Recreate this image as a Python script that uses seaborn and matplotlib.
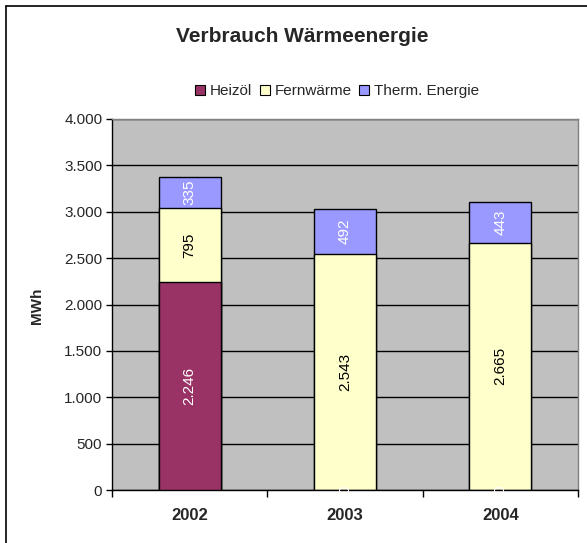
import numpy as np
import pandas as pd
import matplotlib.pyplot as plt
import matplotlib.lines as mlines
from matplotlib.patches import Patch
import seaborn as sns

# --- Data
years = ["2002", "2003", "2004"]
heizoel = [2246, 0, 0]
fernwaerme = [795, 2543, 2665]
therm = [335, 492, 443]

series_names = ["Heizöl", "Fernwärme", "Therm. Energie"]
colors = ["#993366", "#FFFFCC", "#9999FF"]
label_colors = ["white", "black", "white"]

df = pd.DataFrame({"Jahr": years, "Heizöl": heizoel,
                   "Fernwärme": fernwaerme, "Therm. Energie": therm})
cum = df[series_names].cumsum(axis=1)

sns.set_style("white")
plt.rcParams["font.family"] = ["Liberation Sans", "DejaVu Sans"]

fig = plt.figure(figsize=(5.87, 5.43), dpi=100)
ax = fig.add_axes([112 / 587, 1 - 490 / 543, 466 / 587, 371 / 543])
ax.set_facecolor("#C0C0C0")

# stacked bars: draw cumulative totals from top layer down
for name, col in reversed(list(zip(series_names, colors))):
    tmp = pd.DataFrame({"Jahr": years, "val": cum[name]})
    sns.barplot(data=tmp, x="Jahr", y="val", color=col, width=0.4,
                edgecolor="black", linewidth=1, saturation=1, ax=ax, zorder=3)

# value labels
for i, yr in enumerate(years):
    base = 0
    for name, lc in zip(series_names, label_colors):
        v = df.loc[i, name]
        txt = f"{v:,}".replace(",", ".")
        ax.text(i, base + v / 2, txt, rotation=90, ha="center", va="center",
                color=lc, fontsize=11, zorder=4)
        base += v

ax.set_ylim(0, 4000)
ax.set_xlim(-0.5, 2.5)
yt = np.arange(0, 4001, 500)
ax.set_yticks(yt)
ax.set_yticklabels([f"{t:,}".replace(",", ".") for t in yt], fontsize=11)
ax.yaxis.grid(True, color="black", linewidth=1)
ax.set_axisbelow(True)
ax.tick_params(axis="y", which="major", direction="out", length=4, width=1,
               color="black", left=True, pad=3)
ax.set_xticks(range(len(years)))
ax.set_xticklabels(years, fontsize=12, fontweight="bold")
ax.set_xticks([-0.5, 0.5, 1.5, 2.5], minor=True)
ax.tick_params(axis="x", which="major", length=0, pad=13)
ax.tick_params(axis="x", which="minor", direction="out", length=5, width=1,
               color="black", bottom=True)

ax.set_xlabel("")
ax.set_ylabel("")
fig.text(37 / 587, 1 - 306 / 543, "MWh", rotation=90, ha="center", va="center",
         fontsize=11, fontweight="bold")

for s in ["top", "right"]:
    ax.spines[s].set_color("#808080")
    ax.spines[s].set_linewidth(1)
for s in ["left", "bottom"]:
    ax.spines[s].set_color("black")
    ax.spines[s].set_linewidth(1)

fig.text(302 / 587, 1 - 36 / 543, "Verbrauch Wärmeenergie", ha="center",
         va="center", fontsize=15, fontweight="bold")

handles = [Patch(facecolor=c, edgecolor="black", linewidth=0.8, label=n)
           for n, c in zip(series_names, colors)]
fig.legend(handles=handles, loc="center", bbox_to_anchor=(337 / 587, 1 - 91 / 543),
           ncol=3, frameon=False, fontsize=11, handlelength=0.65, handleheight=0.65,
           handletextpad=0.3, columnspacing=0.5)

# outer chart frame
fig.add_artist(mlines.Line2D([6 / 587, 1.0], [1 - 6 / 543, 1 - 6 / 543],
                             color="black", linewidth=1.2, transform=fig.transFigure))
fig.add_artist(mlines.Line2D([6 / 587, 6 / 587], [0.0, 1 - 6 / 543],
                             color="black", linewidth=1.2, transform=fig.transFigure))

fig.savefig("out.png", dpi=100, facecolor="white")
